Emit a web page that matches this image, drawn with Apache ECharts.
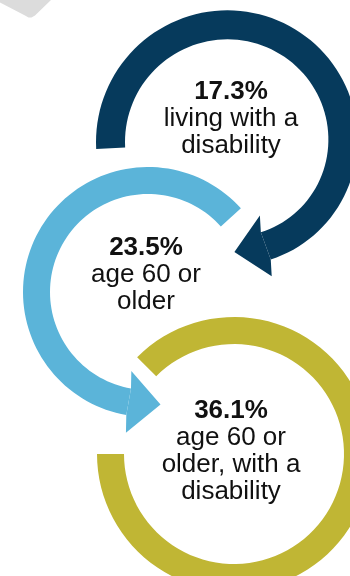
<!DOCTYPE html>
<html>
<head>
<meta charset="utf-8">
<script src="https://cdn.jsdelivr.net/npm/echarts@6/dist/echarts.min.js"></script>
<style>
  html, body { margin: 0; padding: 0; background: #fff; }
  #chart { width: 350px; height: 576px; }
</style>
</head>
<body>
<div id="chart"></div>
<script>
// values shown inside each circular arrow
var shares = [17.3, 23.5, 36.1];
var groups = ['living with a\ndisability', 'age 60 or\nolder', 'age 60 or\nolder, with a\ndisability'];
var colors = ['#063a5c', '#5bb4d9', '#c0b634'];

// ring layout in page units (hidden axes run 0..350 and 0..576)
var rings = [
  {cx: 228, cy: 142, r0: 103, r1: 132, from: 177, to: 430, shrink: 7, arrow: true, tilt: 9, tx: 231, ty: 119},
  {cx: 148, cy: 292, r0: 98, r1: 125, from: -42, to: -260, shrink: 0, arrow: true, tilt: -5, tx: 146, ty: 275},
  {cx: 234, cy: 454, r0: 110, r1: 137, from: -135, to: 180, shrink: 0, arrow: false, tx: 231, ty: 451}
];

var font = '"Liberation Sans", Arial, sans-serif';
var myChart = echarts.init(document.getElementById('chart'));

function renderRing(params, api) {
  var i = api.value(0);
  var g = rings[i];
  var c = api.coord([g.cx, g.cy]);
  var k = api.size([1, 0])[0];
  var outer = [], inner = [];
  var n = 90;
  for (var j = 0; j <= n; j++) {
    var t = j / n;
    var a = (g.from + (g.to - g.from) * t) * Math.PI / 180;
    var s = g.shrink * t * t * t;
    outer.push([c[0] + (g.r1 - s) * k * Math.cos(a), c[1] + (g.r1 - s) * k * Math.sin(a)]);
    inner.push([c[0] + (g.r0 - s) * k * Math.cos(a), c[1] + (g.r0 - s) * k * Math.sin(a)]);
  }
  var children = [{
    type: 'polygon',
    shape: {points: outer.concat(inner.slice().reverse())},
    style: {fill: colors[i]}
  }];

  if (g.arrow) {
    var a1 = (g.to + g.tilt) * Math.PI / 180;
    var rm = ((g.r0 + g.r1) / 2 - g.shrink) * k;
    var aEnd = g.to * Math.PI / 180;
    var bx = c[0] + rm * Math.cos(aEnd), by = c[1] + rm * Math.sin(aEnd);
    var ux = Math.cos(a1), uy = Math.sin(a1);
    var cw = g.to > g.from;
    var dx = cw ? -uy : uy, dy = cw ? ux : -ux;
    var hw = 31 * k, len = 32 * k;
    children.push({
      type: 'polygon',
      shape: {points: [
        outer[n],
        [bx + ux * hw, by + uy * hw],
        [bx + dx * len, by + dy * len],
        [bx - ux * hw, by - uy * hw],
        inner[n]
      ]},
      style: {fill: colors[i]}
    });
  }

  var lines = groups[i].split('\n').map(function (l) { return '{t|' + l + '}'; });
  var tc = api.coord([g.tx, g.ty]);
  children.push({
    type: 'text',
    x: tc[0],
    y: tc[1],
    style: {
      text: ['{v|' + shares[i].toFixed(1) + '%}'].concat(lines).join('\n'),
      align: 'center',
      verticalAlign: 'middle',
      rich: {
        v: {fontFamily: font, fontWeight: 'bold', fontSize: 26, lineHeight: 27, fill: '#111'},
        t: {fontFamily: font, fontSize: 26, lineHeight: 27, fill: '#111'}
      }
    }
  });
  return {type: 'group', children: children};
}

myChart.setOption({
  animation: false,
  backgroundColor: '#fff',
  grid: {left: 0, right: 0, top: 0, bottom: 0},
  xAxis: {type: 'value', min: 0, max: 350, show: false},
  yAxis: {type: 'value', min: 0, max: 576, inverse: true, show: false},
  // grey corner of a shape cut off by the top edge
  graphic: [{
    type: 'polygon',
    shape: {points: [[-5, 0], [25, 15.5], [28.5, 17.5], [31.5, 17.5], [35, 15.5], [52, -1], [54, -5], [-5, -5]]},
    style: {fill: '#dcdcdc'},
    silent: true
  }],
  series: [{
    type: 'custom',
    silent: true,
    renderItem: renderRing,
    data: shares.map(function (v, i) { return [i, v]; })
  }]
});
</script>
</body>
</html>
